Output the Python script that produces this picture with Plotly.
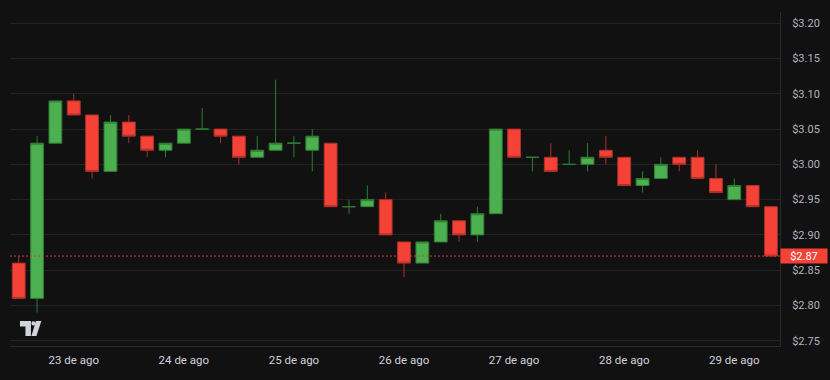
import pandas as pd
import plotly.graph_objects as go

# 4-hour candles starting 22 Aug 12:00
start_time = "2024-08-22 12:00"
opens = [2.86, 2.81, 3.03, 3.09, 3.07, 2.99, 3.06, 3.04, 3.02, 3.03, 3.05, 3.05, 3.04, 3.01,
         3.02, 3.03, 3.02, 3.03, 2.94, 2.94, 2.95, 2.89, 2.86, 2.89, 2.92, 2.90, 2.93, 3.05,
         3.01, 3.01, 3.00, 3.00, 3.02, 3.01, 2.97, 2.98, 3.01, 3.01, 2.98, 2.95, 2.97, 2.94]
highs = [2.87, 3.04, 3.09, 3.10, 3.07, 3.07, 3.07, 3.04, 3.03, 3.05, 3.08, 3.05, 3.04, 3.04,
         3.12, 3.04, 3.05, 3.03, 2.95, 2.97, 2.96, 2.89, 2.89, 2.93, 2.92, 2.94, 3.05, 3.05,
         3.01, 3.03, 3.02, 3.03, 3.04, 3.01, 2.99, 3.01, 3.01, 3.02, 3.00, 2.98, 2.97, 2.94]
lows = [2.81, 2.79, 3.03, 3.07, 2.98, 2.99, 3.03, 3.01, 3.01, 3.03, 3.05, 3.03, 3.00, 3.01,
        3.02, 3.01, 2.99, 2.94, 2.93, 2.94, 2.90, 2.84, 2.86, 2.89, 2.89, 2.89, 2.93, 3.01,
        2.99, 2.99, 3.00, 2.99, 3.00, 2.97, 2.96, 2.98, 2.99, 2.98, 2.96, 2.95, 2.94, 2.87]
closes = [2.81, 3.03, 3.09, 3.07, 2.99, 3.06, 3.04, 3.02, 3.03, 3.05, 3.05, 3.04, 3.01, 3.02,
          3.03, 3.03, 3.04, 2.94, 2.94, 2.95, 2.90, 2.86, 2.89, 2.92, 2.90, 2.93, 3.05, 3.01,
          3.01, 2.99, 3.00, 3.01, 3.01, 2.97, 2.98, 3.00, 3.00, 2.98, 2.96, 2.97, 2.94, 2.87]
last_price = 2.87
last_price_label = "$2.87"

y_tick_vals = [2.75, 2.80, 2.85, 2.90, 2.95, 3.00, 3.05, 3.10, 3.15, 3.20]
y_tick_text = ["$2.75", "$2.80", "$2.85", "$2.90", "$2.95", "$3.00", "$3.05", "$3.10", "$3.15", "$3.20"]
x_tick_vals = ["2024-08-23", "2024-08-24", "2024-08-25", "2024-08-26", "2024-08-27", "2024-08-28", "2024-08-29"]
x_tick_text = ["23 de ago", "24 de ago", "25 de ago", "26 de ago", "27 de ago", "28 de ago", "29 de ago"]

times = pd.date_range(start_time, periods=len(opens), freq="4h")
df = pd.DataFrame({"t": times, "o": opens, "h": highs, "l": lows, "c": closes})
up = df[df.c >= df.o]
dn = df[df.c < df.o]

BG = "#111111"
GRID = "#232323"
G_FILL, G_LINE = "#4CAF50", "#2E7D32"
R_FILL, R_LINE = "#F44336", "#B0302A"

fig = go.Figure()
fig.add_trace(go.Candlestick(
    x=up.t, open=up.o, high=up.h, low=up.l, close=up.c,
    increasing=dict(fillcolor=G_FILL, line=dict(color=G_LINE, width=1)),
    decreasing=dict(fillcolor=G_FILL, line=dict(color=G_LINE, width=1)),
    whiskerwidth=0, showlegend=False, hoverinfo="skip"))
fig.add_trace(go.Candlestick(
    x=dn.t, open=dn.o, high=dn.h, low=dn.l, close=dn.c,
    increasing=dict(fillcolor=R_FILL, line=dict(color=R_LINE, width=1)),
    decreasing=dict(fillcolor=R_FILL, line=dict(color=R_LINE, width=1)),
    whiskerwidth=0, showlegend=False, hoverinfo="skip"))

# last price dotted line
fig.add_shape(type="line", xref="paper", x0=0, x1=1, yref="y", y0=last_price, y1=last_price,
              line=dict(color="#D9413A", width=1, dash="2px,2px"), layer="above")
fig.add_annotation(xref="paper", x=1, xanchor="left", yref="y", y=last_price, yanchor="middle",
                   text=last_price_label, showarrow=False, bgcolor="#F44336",
                   font=dict(color="#FFFFFF", size=11, family="Roboto"),
                   width=44, height=12, borderpad=1)

# TradingView-like logo (decoration, pixel-based)
L, R, T, B = 10, 783, 12, 346
def px(x):
    return (x - L) / (R - L)
def py(y):
    return (B - y) / (B - T)
logo_col = "#D1D4DC"
p1 = [(20, 321), (31, 321), (31, 336), (25.5, 336), (25.5, 326.5), (20, 326.5)]
path1 = "M " + " L ".join(f"{px(a)},{py(b)}" for a, b in p1) + " Z"
p2 = [(36, 321), (41.5, 321), (36.5, 336), (31.5, 336)]
path2 = "M " + " L ".join(f"{px(a)},{py(b)}" for a, b in p2) + " Z"
fig.add_shape(type="path", path=path1, xref="paper", yref="paper", fillcolor=logo_col, line_width=0)
fig.add_shape(type="path", path=path2, xref="paper", yref="paper", fillcolor=logo_col, line_width=0)
fig.add_shape(type="circle", xref="paper", yref="paper", x0=px(31.5), x1=px(35.5), y0=py(325.5), y1=py(321.3),
              fillcolor=logo_col, line_width=0)

fig.update_layout(
    width=830, height=380,
    margin=dict(l=L, r=830 - R, t=T, b=380 - B),
    paper_bgcolor=BG, plot_bgcolor=BG,
    boxgap=0.3, boxgroupgap=0,
    showlegend=False,
    font=dict(family="Roboto", size=11),
    xaxis=dict(
        type="date", range=["2024-08-22 10:06", "2024-08-29 09:58"],
        rangeslider=dict(visible=False),
        tickvals=x_tick_vals, ticktext=x_tick_text,
        tickfont=dict(color="#D1D4DC", size=11.5, family="Roboto"),
        showgrid=False, zeroline=False,
        showline=True, linecolor="#2A2A2A", linewidth=1,
        ticks="outside", ticklen=3, tickcolor="rgba(0,0,0,0)",
    ),
    yaxis=dict(
        side="right", range=[2.7425, 3.216],
        tickvals=y_tick_vals, ticktext=y_tick_text,
        tickfont=dict(color="#B2B5BE", size=11, family="Roboto"),
        showgrid=True, gridcolor=GRID, gridwidth=1, zeroline=False,
        showline=True, linecolor="#2A2A2A", linewidth=1,
        ticks="outside", ticklen=9, tickcolor="rgba(0,0,0,0)",
    ),
)

fig.write_html("out.html", config={"displayModeBar": False},
               post_script="document.body.style.margin='0';document.body.style.padding='0';document.body.style.background='#111111';")
